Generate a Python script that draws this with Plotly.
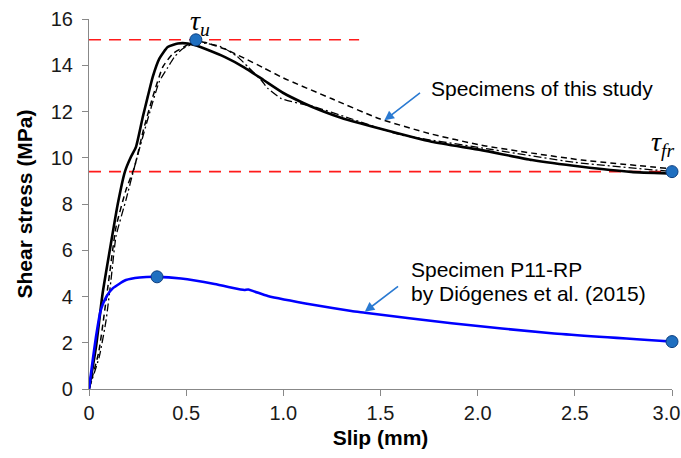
import plotly.graph_objects as go

# ---- data ----
solid_x = [0, 0.036, 0.07, 0.113, 0.148, 0.185, 0.216, 0.242, 0.277, 0.302, 0.328, 0.362, 0.405, 0.457, 0.509,
           0.552, 0.6, 0.7, 0.8, 0.9, 1.0, 1.1, 1.2, 1.3, 1.4, 1.5, 1.763, 2.02, 2.28, 2.536, 2.79, 2.98]
solid_y = [0, 1.82, 4.13, 6.3, 8.0, 9.4, 10.04, 10.47, 11.77, 12.63, 13.5, 14.29, 14.79, 14.94, 14.94,
           14.85, 14.7, 14.35, 13.9, 13.35, 12.8, 12.38, 12.02, 11.72, 11.48, 11.25, 10.69, 10.33, 9.9, 9.61, 9.39, 9.32]

dashed_x = [0, 0.05, 0.1, 0.139, 0.19, 0.234, 0.28, 0.328, 0.38, 0.431, 0.49, 0.546, 0.6, 0.7, 0.8,
            0.9, 1.0, 1.247, 1.49, 1.75, 2.02, 2.28, 2.536, 2.98]
dashed_y = [0, 1.6, 4.6, 7.0, 8.6, 9.6, 11.2, 12.63, 13.93, 14.5, 14.8, 15.05, 14.98, 14.7, 14.3,
            13.88, 13.45, 12.56, 11.7, 11.05, 10.54, 10.2, 9.9, 9.54]

dashdot_x = [0, 0.053, 0.088, 0.113, 0.139, 0.19, 0.234, 0.3, 0.362, 0.405, 0.44, 0.48, 0.53, 0.6, 0.68,
             0.76, 0.818, 0.887, 0.92, 0.99, 1.16, 1.33, 1.6, 2.02, 2.5, 2.98]
dashdot_y = [0, 1.4, 2.98, 4.7, 6.6, 8.17, 9.6, 11.6, 13.3, 13.9, 14.36, 14.7, 14.9, 14.95, 14.8,
             14.4, 13.93, 13.35, 13.0, 12.56, 12.2, 11.74, 11.0, 10.43, 9.8, 9.42]

blue_x = [0, 0.02, 0.036, 0.06, 0.09, 0.122, 0.19, 0.26, 0.35, 0.474, 0.646, 0.78, 0.80, 0.82, 0.92,
          1.16, 1.35, 1.42, 1.866, 2.38, 3.0]
blue_y = [0, 1.3, 2.26, 3.4, 4.0, 4.35, 4.71, 4.82, 4.85, 4.78, 4.54, 4.3, 4.28, 4.3, 4.02,
          3.63, 3.37, 3.3, 2.84, 2.41, 2.05]

black_pts_x = [0.55, 3.0]
black_pts_y = [15.1, 9.4]
blue_pts_x = [0.35, 3.0]
blue_pts_y = [4.85, 2.05]

tau_u = 15.1
tau_u_end = 1.39
tau_fr = 9.4
tau_fr_end = 3.0

x_ticks = [0, 0.5, 1.0, 1.5, 2.0, 2.5, 3.0]
x_ticklabels = ["0", "0.5", "1.0", "1.5", "2.0", "2.5",
                '3.0<span style="color:rgba(0,0,0,0)">0</span>']
y_ticks = [0, 2, 4, 6, 8, 10, 12, 14, 16]

FONT = "Arial, Liberation Sans, sans-serif"
SERIF = "Times New Roman, Liberation Serif, serif"

fig = go.Figure()

# red reference lines
fig.add_trace(go.Scatter(x=[0, tau_u_end], y=[tau_u, tau_u], mode="lines",
                         line=dict(color="#ff1a1a", width=1.6, dash="12px,8px"), showlegend=False))
fig.add_trace(go.Scatter(x=[0, tau_fr_end], y=[tau_fr, tau_fr], mode="lines",
                         line=dict(color="#ff1a1a", width=1.6, dash="12px,8px"), showlegend=False))

fig.add_trace(go.Scatter(x=dashdot_x, y=dashdot_y, mode="lines",
                         line=dict(color="black", width=1.3, dash="8px,3px,2px,3px", shape="spline", smoothing=0.5),
                         showlegend=False))
fig.add_trace(go.Scatter(x=dashed_x, y=dashed_y, mode="lines",
                         line=dict(color="black", width=1.5, dash="6px,4px", shape="spline", smoothing=0.5),
                         showlegend=False))
fig.add_trace(go.Scatter(x=solid_x, y=solid_y, mode="lines",
                         line=dict(color="black", width=2.6, shape="spline", smoothing=0.5),
                         showlegend=False))
fig.add_trace(go.Scatter(x=blue_x, y=blue_y, mode="lines",
                         line=dict(color="#0000ff", width=2.6, shape="spline", smoothing=0.5),
                         showlegend=False))

marker_style = dict(color="#1f6fc0", size=12, line=dict(color="#0d3f80", width=1))
fig.add_trace(go.Scatter(x=black_pts_x, y=black_pts_y, mode="markers", marker=marker_style,
                         cliponaxis=False, showlegend=False))
fig.add_trace(go.Scatter(x=blue_pts_x, y=blue_pts_y, mode="markers", marker=marker_style,
                         cliponaxis=False, showlegend=False))

annotations = [
    dict(x=0.572, y=15.85, text="<i>τ<sub>u</sub></i>", showarrow=False,
         font=dict(family=SERIF, size=28, color="black"), xanchor="center", yanchor="middle"),
    dict(x=2.95, y=10.6, text="<i>τ<sub>fr</sub></i>", showarrow=False,
         font=dict(family=SERIF, size=28, color="black"), xanchor="center", yanchor="middle"),
    dict(x=1.75, y=13.0, text="Specimens of this study", showarrow=False,
         font=dict(family=FONT, size=21, color="black"), xanchor="left", yanchor="middle"),
    dict(x=1.645, y=5.15, text="Specimen P11-RP", showarrow=False,
         font=dict(family=FONT, size=21, color="black"), xanchor="left", yanchor="middle"),
    dict(x=1.645, y=4.13, text="by Diógenes et al. (2015)", showarrow=False,
         font=dict(family=FONT, size=21, color="black"), xanchor="left", yanchor="middle"),
    dict(x=1.52, y=11.62, ax=1.711, ay=12.85, axref="x", ayref="y", text="", showarrow=True,
         arrowhead=2, arrowsize=1.2, arrowwidth=1.6, arrowcolor="#2a7ad2"),
    dict(x=1.419, y=3.34, ax=1.598, ay=4.49, axref="x", ayref="y", text="", showarrow=True,
         arrowhead=2, arrowsize=1.2, arrowwidth=1.6, arrowcolor="#2a7ad2"),
]

fig.update_layout(
    width=681, height=458,
    margin=dict(l=89, r=9, t=19, b=69, autoexpand=False),
    plot_bgcolor="white", paper_bgcolor="white",
    font=dict(family=FONT, size=20, color="#1a1a1a"),
    annotations=annotations,
    xaxis=dict(range=[0, 3.0], tickvals=x_ticks, ticktext=x_ticklabels, ticks="outside", ticklen=6,
               tickcolor="#888888", showline=True, linecolor="#888888", linewidth=1.2, showgrid=False,
               zeroline=False, tickfont=dict(size=20), automargin=False, ticklabeloverflow="allow",
               title=dict(text="<b>Slip (mm)</b>", font=dict(size=21, color="black"), standoff=7)),
    yaxis=dict(range=[0, 16], tickvals=y_ticks, ticks="outside", ticklen=6,
               tickcolor="#888888", showline=True, linecolor="#888888", linewidth=1.2, showgrid=False,
               zeroline=False, tickfont=dict(size=20), automargin=False, ticklabeloverflow="allow",
               ticklabelstandoff=5,
               title=dict(text="<b>Shear stress (MPa)</b>", font=dict(size=21, color="black"), standoff=12)),
)

fig.write_html("out.html", post_script="document.body.style.margin='0px';",
               config={"displayModeBar": False})
